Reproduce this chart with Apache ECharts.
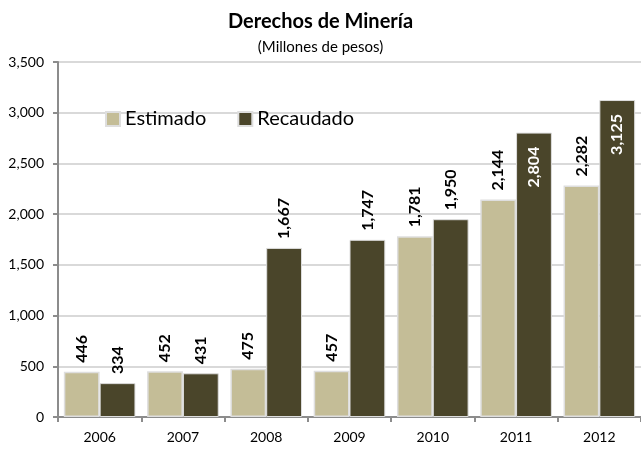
<!DOCTYPE html>
<html>
<head>
<meta charset="utf-8">
<script src="https://cdn.jsdelivr.net/npm/echarts@6/dist/echarts.min.js"></script>
<style>
  html, body { margin: 0; padding: 0; background: #fff; }
  #main { width: 641px; height: 450px; }
</style>
</head>
<body>
<div id="main"></div>
<script>
var years = ['2006', '2007', '2008', '2009', '2010', '2011', '2012'];
var estimado = [446, 452, 475, 457, 1781, 2144, 2282];
var recaudado = [334, 431, 1667, 1747, 1950, 2804, 3125];
// labels Excel put inside the bar end
var insideYears = ['2011', '2012'];

var font = 'Lato, "Liberation Sans", sans-serif';
var fmt = function (v) { return Number(v).toLocaleString('en-US'); };

var chartDom = document.getElementById('main');
var myChart = echarts.init(chartDom);

var outsideLabel = {
  show: true,
  position: 'top',
  rotate: 90,
  align: 'left',
  verticalAlign: 'middle',
  distance: 9,
  fontFamily: font,
  fontWeight: 'bold',
  fontSize: 16,
  color: '#000',
  formatter: function (p) { return fmt(p.value); }
};

var option = {
  animation: false,
  title: [
    {
      text: 'Derechos de Minería',
      left: 'center',
      top: 7,
      textStyle: { fontFamily: font, fontWeight: 'bold', fontSize: 20, color: '#000' }
    },
    {
      text: '(Millones de pesos)',
      left: 'center',
      top: 35,
      textStyle: { fontFamily: font, fontWeight: 'normal', fontSize: 15, color: '#000' }
    }
  ],
  legend: {
    left: 100,
    top: 104,
    icon: 'rect',
    itemWidth: 14,
    itemHeight: 14,
    itemGap: 31,
    textStyle: { fontFamily: font, fontSize: 20, color: '#000' },
    data: ['Estimado', 'Recaudado']
  },
  grid: { left: 58, right: -5, top: 62, bottom: 33 },
  xAxis: {
    type: 'category',
    data: years,
    axisLine: { lineStyle: { color: '#8c8c8c', width: 2 } },
    axisTick: { show: true, length: 5, lineStyle: { color: '#8c8c8c', width: 2 } },
    axisLabel: { fontFamily: font, fontSize: 14, color: '#000', margin: 13 }
  },
  yAxis: {
    type: 'value',
    min: 0,
    max: 3500,
    interval: 500,
    axisLine: { show: true, lineStyle: { color: '#8c8c8c', width: 2 } },
    axisTick: { show: true, length: 5, lineStyle: { color: '#8c8c8c', width: 2 } },
    splitLine: { lineStyle: { color: '#d9d9d9', width: 2 } },
    axisLabel: { fontFamily: font, fontSize: 14, color: '#000', margin: 14, formatter: fmt }
  },
  series: [
    {
      name: 'Estimado',
      type: 'bar',
      data: estimado,
      barGap: '0%',
      barCategoryGap: '14%',
      itemStyle: { color: '#c4bd97', borderColor: '#dedede', borderWidth: 1.5 },
      label: outsideLabel
    },
    {
      name: 'Recaudado',
      type: 'bar',
      data: recaudado.map(function (v, i) {
        if (insideYears.indexOf(years[i]) < 0) return v;
        return {
          value: v,
          label: {
            position: 'insideTop',
            align: 'right',
            distance: 14,
            color: '#fff'
          }
        };
      }),
      itemStyle: { color: '#4a452a', borderColor: '#dedede', borderWidth: 1 },
      label: outsideLabel
    }
  ]
};

option && myChart.setOption(option);
</script>
</body>
</html>
